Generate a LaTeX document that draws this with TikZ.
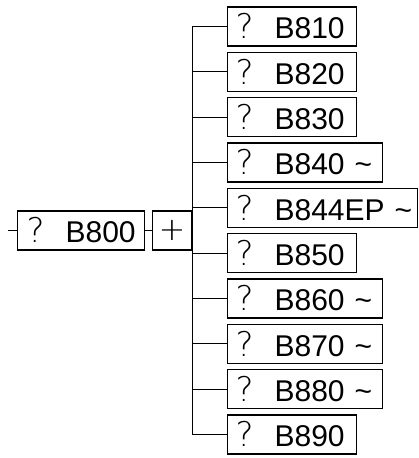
\documentclass[tikz,border=0pt]{standalone}
\usepackage{fontspec}
\setmainfont{Liberation Sans}
\newfontfamily\qfont{DejaVu Sans ExtraLight}
\usepackage{tikz}
\newcommand{\qlabel}[1]{\makebox[39pt][l]{\qfont\fontsize{34}{34}\selectfont ?}#1}

\begin{document}
\begin{tikzpicture}[x=1pt, y=-1pt, line width=1.2pt,
  box/.style={draw, anchor=west, minimum height=39pt, inner xsep=8pt, inner ysep=0pt,
    align=left, font=\fontsize{30}{30}\selectfont}]

\useasboundingbox (0,0) rectangle (418,458);

% radice
\coordinate (in) at (8,230.5);
\node[box, text width=109pt, inner xsep=9pt] (root) at (17,230.5) {\qlabel{B800}};
\node[draw, minimum size=39pt, inner sep=0pt, anchor=west,
  font=\qfont\fontsize{32}{32}\selectfont] (exp) at (152,230.5) {+};

% figli
\node[box, text width=113pt] (c1) at (227,26.5) {\qlabel{B810}};
\node[box, text width=113pt] (c2) at (227,71.8) {\qlabel{B820}};
\node[box, text width=113pt] (c3) at (227,117.2) {\qlabel{B830}};
\node[box, text width=139pt] (c4) at (227,162.5) {\qlabel{B840~\textasciitilde}};
\node[box, text width=174pt] (c5) at (227,207.8) {\qlabel{B844EP~\textasciitilde}};
\node[box, text width=113pt] (c6) at (227,253.2) {\qlabel{B850}};
\node[box, text width=139pt] (c7) at (227,298.5) {\qlabel{B860~\textasciitilde}};
\node[box, text width=139pt] (c8) at (227,343.8) {\qlabel{B870~\textasciitilde}};
\node[box, text width=139pt] (c9) at (227,389.1) {\qlabel{B880~\textasciitilde}};
\node[box, text width=113pt] (c10) at (227,434.5) {\qlabel{B890}};

% collegamenti
\draw (in) -- (root);
\draw (root) -- (exp);
\foreach \i in {1,...,10}
  \draw (exp.east) |- (c\i.west);

\end{tikzpicture}
\end{document}
